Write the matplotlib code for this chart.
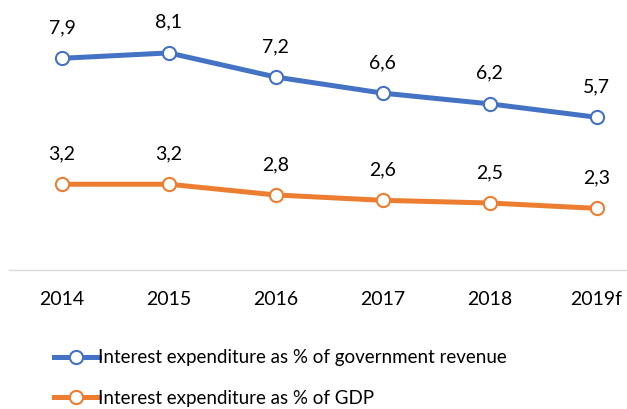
import matplotlib.pyplot as plt
from matplotlib.lines import Line2D

years = ["2014", "2015", "2016", "2017", "2018", "2019f"]
revenue_share = [7.9, 8.1, 7.2, 6.6, 6.2, 5.7]
gdp_share = [3.2, 3.2, 2.8, 2.6, 2.5, 2.3]

BLUE = "#4472C4"
ORANGE = "#ED7D31"
FONT = "Lato"

plt.rcParams["font.family"] = [FONT, "DejaVu Sans"]

fig = plt.figure(figsize=(6.27, 4.09), dpi=100)
ax = fig.add_axes([8.5 / 627, 139 / 409, 641.5 / 627, 268 / 409])

x = list(range(len(years)))
series = [
    (revenue_share, BLUE, "Interest expenditure as % of government revenue"),
    (gdp_share, ORANGE, "Interest expenditure as % of GDP"),
]
handles = []
for values, color, label in series:
    ax.plot(x, values, color=color, lw=3.6, marker="o", ms=9.5,
            mfc="white", mec=color, mew=1.5, solid_capstyle="round", zorder=3)
    for xi, v in zip(x, values):
        ax.annotate(f"{v:.1f}".replace(".", ","), (xi, v), xytext=(0, 22),
                    textcoords="offset points", ha="center", va="center",
                    fontsize=14)
    handles.append(Line2D([], [], color=color, lw=3.6, marker="o", ms=9.5,
                          mfc="white", mec=color, mew=1.5, label=label))

ax.set_xlim(-0.5, 5.5)
ax.set_ylim(0, 10)
ax.set_xticks(x)
ax.set_xticklabels(years, fontsize=14)
ax.set_yticks([])
ax.tick_params(axis="x", length=0, pad=15)
for side in ["top", "right", "left"]:
    ax.spines[side].set_visible(False)
ax.spines["bottom"].set_color("#D9D9D9")
ax.spines["bottom"].set_linewidth(1.0)

fig.legend(handles=handles, loc="upper left", bbox_to_anchor=(46 / 627, 1 - 342 / 409),
           frameon=False, fontsize=13.5, handlelength=2.4, handletextpad=0.0,
           labelspacing=1.25, borderaxespad=0)

fig.savefig("out.png", dpi=100)
